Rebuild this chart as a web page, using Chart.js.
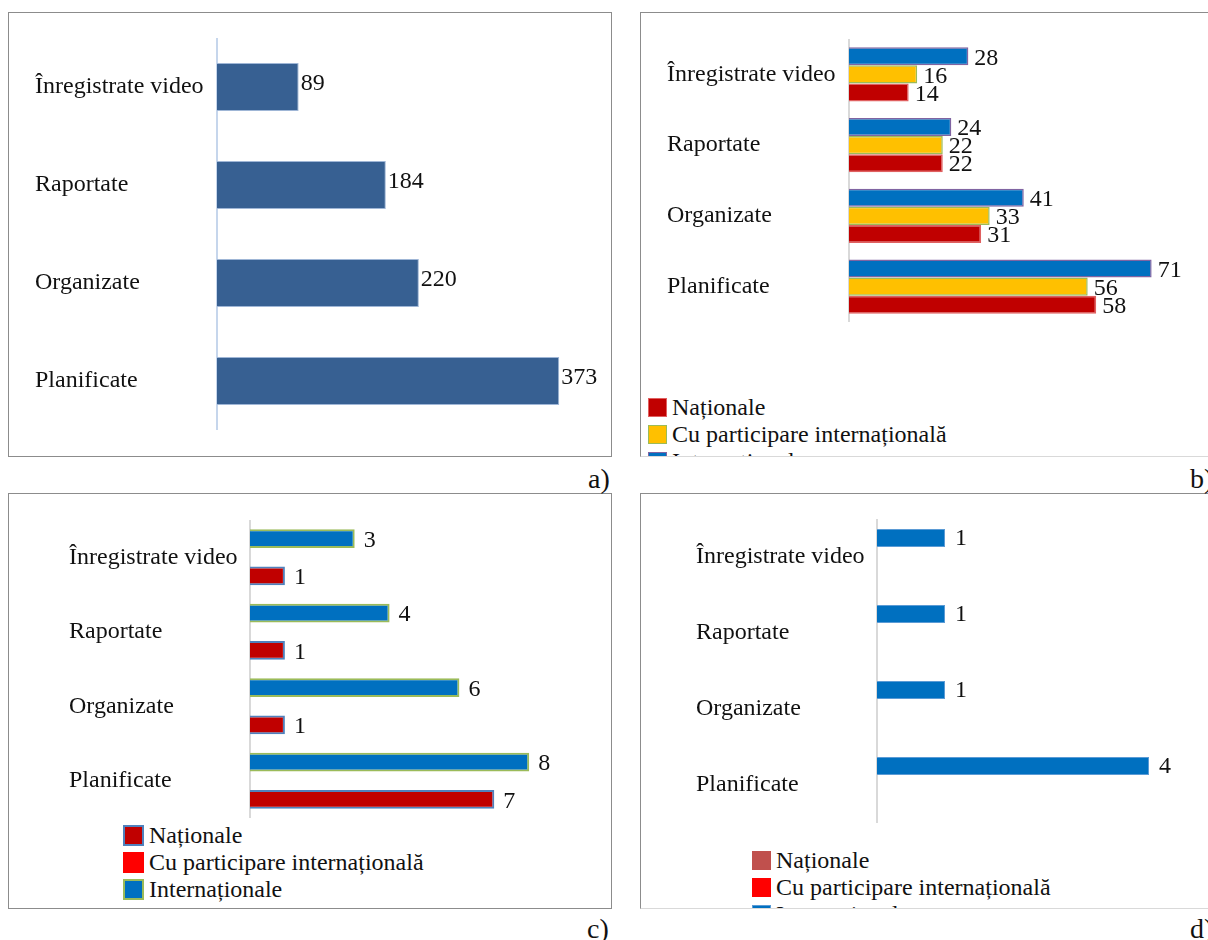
<!DOCTYPE html>
<html lang="ro">
<head>
    <meta charset="UTF-8">
    <title>Activități – a), b), c), d)</title>
    <script src="https://cdn.jsdelivr.net/npm/chart.js"></script>
    <style>
        body {
            margin: 0;
            width: 1208px;
            height: 940px;
            overflow: hidden;
            position: relative;
            background: #fff;
            font-family: "Liberation Serif", "Times New Roman", serif;
        }
        .panel {
            position: absolute;
            border: 1px solid #8c8c8c;
            overflow: hidden;
            box-sizing: border-box;
        }
        .chart-box {
            position: absolute;
        }
        .legend {
            position: absolute;
            font-size: 24px;
            color: #111;
        }
        .legend div {
            height: 27px;
            line-height: 27px;
            white-space: nowrap;
            display: flex;
            align-items: center;
        }
        .legend span.box {
            display: inline-block;
            box-sizing: border-box;
            margin-right: 5px;
        }
        .tag {
            position: absolute;
            font-size: 28px;
            line-height: 28px;
            color: #111;
        }
    </style>
</head>
<body>
    <div class="panel" id="pa" style="left:8px; top:12px; width:604px; height:445px;">
        <div class="chart-box" style="left:26px; top:25px; width:574px; height:392px;"><canvas id="chartA"></canvas></div>
    </div>
    <div class="panel" id="pb" style="left:640px; top:12px; width:600px; height:445px; border-bottom-color:#d9d9d9;">
        <div class="chart-box" style="left:26px; top:26px; width:543px; height:283px;"><canvas id="chartB"></canvas></div>
        <div class="legend" id="legendB" style="left:7px; top:381px;"></div>
    </div>
    <div class="panel" id="pc" style="left:8px; top:493px; width:604px; height:416px;">
        <div class="chart-box" style="left:60px; top:26px; width:540px; height:298px;"><canvas id="chartC"></canvas></div>
        <div class="legend" id="legendC" style="left:114px; top:328px;"></div>
    </div>
    <div class="panel" id="pd" style="left:640px; top:493px; width:600px; height:416px; border-bottom-color:#d9d9d9;">
        <div class="chart-box" style="left:55px; top:25px; width:507px; height:304px;"><canvas id="chartD"></canvas></div>
        <div class="legend" id="legendD" style="left:111px; top:353px;"></div>
    </div>

    <div class="tag" style="left:588px; top:465px;">a)</div>
    <div class="tag" style="left:1190px; top:465px;">b)</div>
    <div class="tag" style="left:587px; top:915px;">c)</div>
    <div class="tag" style="left:1190px; top:915px;">d)</div>

    <script>
        // Data
        const categories = ['Înregistrate video', 'Raportate', 'Organizate', 'Planificate'];
        const seriesNames = ['Naționale', 'Cu participare internațională', 'Internaționale'];

        // a) totals
        const totalA = [89, 184, 220, 373];

        // b)
        const nationalB = [14, 22, 31, 58];
        const withIntB = [16, 22, 33, 56];
        const internationalB = [28, 24, 41, 71];

        // c)
        const nationalC = [1, 1, 1, 7];
        const withIntC = [null, null, null, null];
        const internationalC = [3, 4, 6, 8];

        // d)
        const nationalD = [null, null, null, null];
        const withIntD = [null, null, null, null];
        const internationalD = [1, 1, 1, 4];

        const serif = '"Liberation Serif", "Times New Roman", serif';
        Chart.defaults.font.family = serif;
        Chart.defaults.color = '#111';

        // draws the number at the end of every bar
        const valueLabels = {
            id: 'valueLabels',
            afterDatasetsDraw(chart, args, opts) {
                const ctx = chart.ctx;
                ctx.save();
                ctx.font = '24px ' + serif;
                ctx.fillStyle = '#111';
                ctx.textAlign = 'left';
                ctx.textBaseline = 'middle';
                chart.data.datasets.forEach((ds, i) => {
                    const meta = chart.getDatasetMeta(i);
                    if (meta.hidden || ds.hidden) return;
                    meta.data.forEach((bar, j) => {
                        const v = ds.data[j];
                        if (v === null || v === undefined) return;
                        ctx.fillText(String(v), bar.x + (opts.dx || 4), bar.y + (opts.dy || 0));
                    });
                });
                ctx.restore();
            }
        };

        function makeChart(id, datasets, xMax, axisColor, labelOpts, catPct, barPct, axisWidth, padRight) {
            return new Chart(document.getElementById(id), {
                type: 'bar',
                data: { labels: categories, datasets: datasets },
                plugins: [valueLabels],
                options: {
                    indexAxis: 'y',
                    responsive: true,
                    maintainAspectRatio: false,
                    animation: false,
                    categoryPercentage: catPct,
                    barPercentage: barPct,
                    layout: { padding: { top: 0, bottom: 0, left: 0, right: padRight } },
                    plugins: {
                        legend: { display: false },
                        tooltip: { enabled: false },
                        valueLabels: labelOpts
                    },
                    scales: {
                        x: { display: false, min: 0, max: xMax },
                        y: {
                            grid: { display: false, drawTicks: false },
                            border: { display: true, color: axisColor, width: 2 },
                            ticks: {
                                crossAlign: 'far',
                                color: '#111',
                                padding: 10,
                                font: { size: 24, family: serif }
                            },
                            afterFit(axis) {
                                axis.width = axisWidth;
                                // labels sit at band centres, no extra room needed
                                axis.paddingTop = 0;
                                axis.paddingBottom = 0;
                            }
                        }
                    }
                }
            });
        }

        // a)
        makeChart('chartA', [{
            label: 'Total',
            data: totalA,
            backgroundColor: '#376092',
            borderColor: '#9fb6d6',
            borderWidth: 1
        }], 400, '#c6d6ec', { dx: 2, dy: -3 }, 1, 0.49, 182, 25);

        // b) top to bottom: Internaționale, Cu participare, Naționale
        const colorsB = ['#c00000', '#ffc000', '#0070c0'];
        const bordersB = ['#e06060', '#9bbb59', '#8064a2'];
        makeChart('chartB', [
            { label: seriesNames[2], data: internationalB, backgroundColor: colorsB[2], borderColor: bordersB[2], borderWidth: 1.5 },
            { label: seriesNames[1], data: withIntB, backgroundColor: colorsB[1], borderColor: bordersB[1], borderWidth: 1.5 },
            { label: seriesNames[0], data: nationalB, backgroundColor: colorsB[0], borderColor: bordersB[0], borderWidth: 1.5 }
        ], 80, '#d9d9d9', { dx: 6, dy: 2 }, 0.765, 1, 182, 20);

        // c)
        const colorsC = ['#c00000', '#ff0000', '#0070c0'];
        const bordersC = ['#4f81bd', '#ff0000', '#9bbb59'];
        makeChart('chartC', [
            { label: seriesNames[2], data: internationalC, backgroundColor: colorsC[2], borderColor: bordersC[2], borderWidth: 2 },
            { label: seriesNames[1], data: withIntC, backgroundColor: colorsC[1], borderColor: bordersC[1], borderWidth: 2, hidden: true },
            { label: seriesNames[0], data: nationalC, backgroundColor: colorsC[0], borderColor: bordersC[0], borderWidth: 2 }
        ], 10, '#d9d9d9', { dx: 9, dy: 2 }, 1, 0.5, 181, 10);

        // d)
        const colorsD = ['#c0504d', '#ff0000', '#0070c0'];
        const bordersD = ['#c0504d', '#ff0000', '#5b9bd5'];
        makeChart('chartD', [
            { label: seriesNames[2], data: internationalD, backgroundColor: colorsD[2], borderColor: bordersD[2], borderWidth: 1 },
            { label: seriesNames[1], data: withIntD, backgroundColor: colorsD[1], borderColor: bordersD[1], borderWidth: 1, hidden: true },
            { label: seriesNames[0], data: nationalD, backgroundColor: colorsD[0], borderColor: bordersD[0], borderWidth: 1 }
        ], 4.5, '#d9d9d9', { dx: 10, dy: 1 }, 1, 0.47, 181, 20);

        // legends (Naționale first, like the original)
        function buildLegend(id, colors, borders, size, bw) {
            const el = document.getElementById(id);
            seriesNames.forEach((name, i) => {
                const row = document.createElement('div');
                const box = document.createElement('span');
                box.className = 'box';
                box.style.width = size + 'px';
                box.style.height = size + 'px';
                box.style.background = colors[i];
                box.style.border = bw + 'px solid ' + borders[i];
                row.appendChild(box);
                row.appendChild(document.createTextNode(name));
                el.appendChild(row);
            });
        }
        buildLegend('legendB', colorsB, bordersB, 19, 1.5);
        buildLegend('legendC', colorsC, bordersC, 21, 2);
        buildLegend('legendD', colorsD, bordersD, 19, 1);
    </script>
</body>
</html>
